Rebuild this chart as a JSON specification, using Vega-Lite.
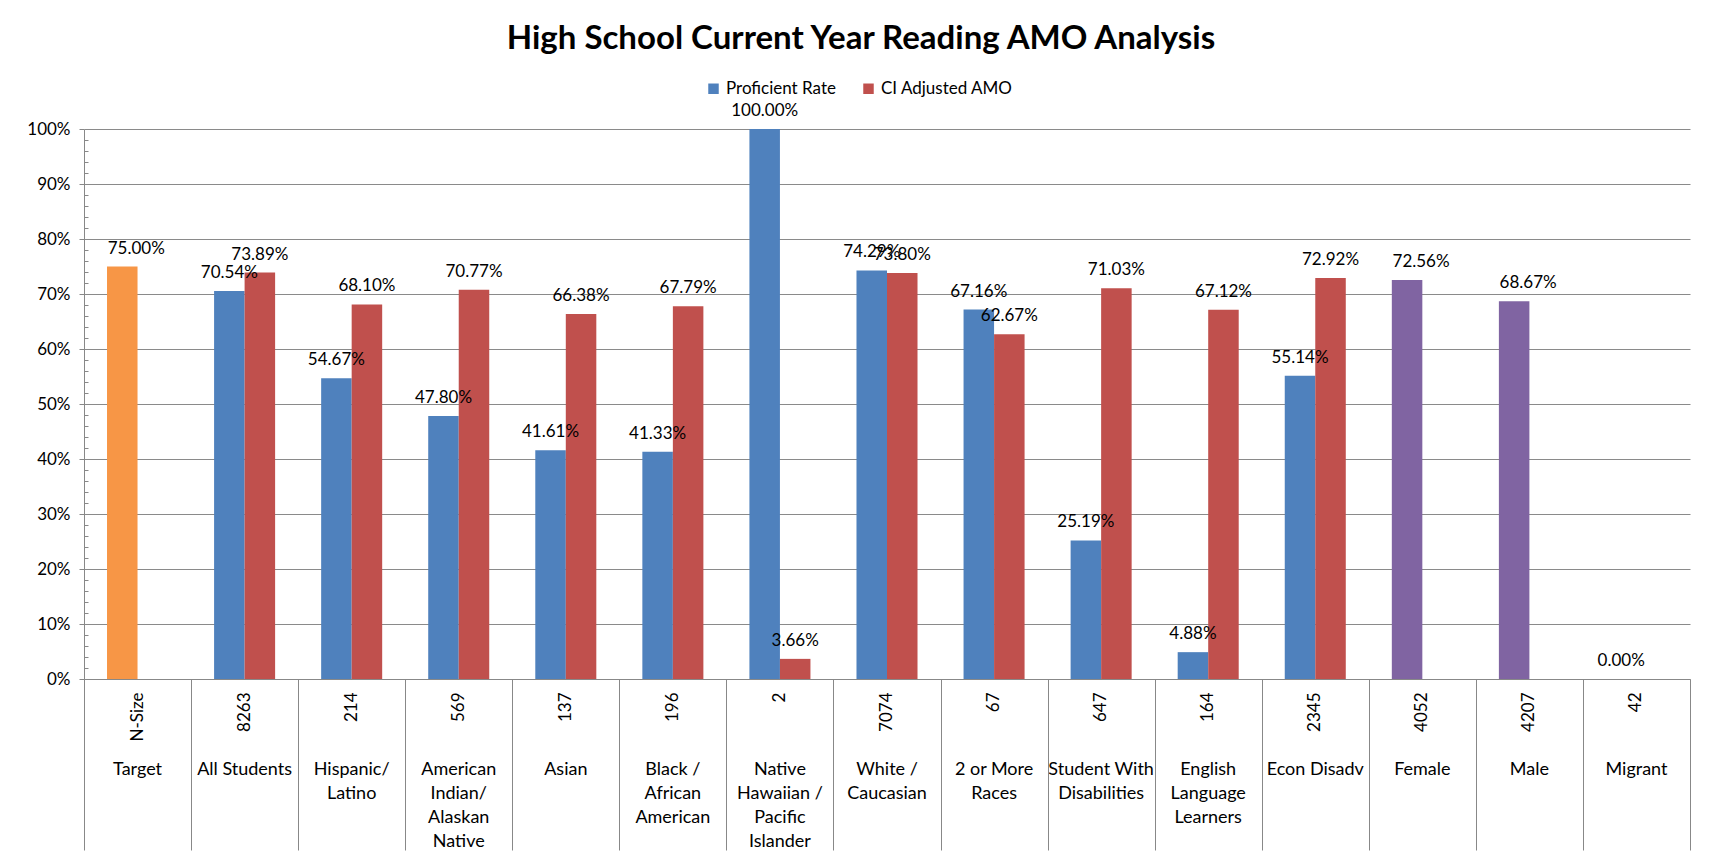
{
  "$schema": "https://vega.github.io/schema/vega-lite/v6.json",
  "width": 1606,
  "height": 550,
  "autosize": {"type": "none"},
  "padding": {"left": 84, "top": 129, "right": 19, "bottom": 181},
  "background": "white",
  "title": {
    "text": "High School Current Year Reading AMO Analysis",
    "font": "Lato",
    "fontSize": 33,
    "fontWeight": "bold",
    "color": "black",
    "anchor": "middle",
    "frame": "group",
    "dx": -26,
    "offset": 24
  },
  "data": {
    "values": [
      {"group": "Target", "nsize": "N-Size", "series": "Proficient Rate", "colorKey": "Target", "value": 0.75, "shift": "yes"},
      {"group": "All Students", "nsize": "8263", "series": "Proficient Rate", "colorKey": "Proficient Rate", "value": 0.7054, "shift": "no"},
      {"group": "All Students", "nsize": "8263", "series": "CI Adjusted AMO", "colorKey": "CI Adjusted AMO", "value": 0.7389, "shift": "no"},
      {"group": "Hispanic/|Latino", "nsize": "214", "series": "Proficient Rate", "colorKey": "Proficient Rate", "value": 0.5467, "shift": "no"},
      {"group": "Hispanic/|Latino", "nsize": "214", "series": "CI Adjusted AMO", "colorKey": "CI Adjusted AMO", "value": 0.681, "shift": "no"},
      {"group": "American|Indian/|Alaskan|Native", "nsize": "569", "series": "Proficient Rate", "colorKey": "Proficient Rate", "value": 0.478, "shift": "no"},
      {"group": "American|Indian/|Alaskan|Native", "nsize": "569", "series": "CI Adjusted AMO", "colorKey": "CI Adjusted AMO", "value": 0.7077, "shift": "no"},
      {"group": "Asian", "nsize": "137", "series": "Proficient Rate", "colorKey": "Proficient Rate", "value": 0.4161, "shift": "no"},
      {"group": "Asian", "nsize": "137", "series": "CI Adjusted AMO", "colorKey": "CI Adjusted AMO", "value": 0.6638, "shift": "no"},
      {"group": "Black /|African|American", "nsize": "196", "series": "Proficient Rate", "colorKey": "Proficient Rate", "value": 0.4133, "shift": "no"},
      {"group": "Black /|African|American", "nsize": "196", "series": "CI Adjusted AMO", "colorKey": "CI Adjusted AMO", "value": 0.6779, "shift": "no"},
      {"group": "Native|Hawaiian /|Pacific|Islander", "nsize": "2", "series": "Proficient Rate", "colorKey": "Proficient Rate", "value": 1.0, "shift": "no"},
      {"group": "Native|Hawaiian /|Pacific|Islander", "nsize": "2", "series": "CI Adjusted AMO", "colorKey": "CI Adjusted AMO", "value": 0.0366, "shift": "no"},
      {"group": "White /|Caucasian", "nsize": "7074", "series": "Proficient Rate", "colorKey": "Proficient Rate", "value": 0.7429, "shift": "no"},
      {"group": "White /|Caucasian", "nsize": "7074", "series": "CI Adjusted AMO", "colorKey": "CI Adjusted AMO", "value": 0.738, "shift": "no"},
      {"group": "2 or More|Races", "nsize": "67", "series": "Proficient Rate", "colorKey": "Proficient Rate", "value": 0.6716, "shift": "no"},
      {"group": "2 or More|Races", "nsize": "67", "series": "CI Adjusted AMO", "colorKey": "CI Adjusted AMO", "value": 0.6267, "shift": "no"},
      {"group": "Student With|Disabilities", "nsize": "647", "series": "Proficient Rate", "colorKey": "Proficient Rate", "value": 0.2519, "shift": "no"},
      {"group": "Student With|Disabilities", "nsize": "647", "series": "CI Adjusted AMO", "colorKey": "CI Adjusted AMO", "value": 0.7103, "shift": "no"},
      {"group": "English|Language|Learners", "nsize": "164", "series": "Proficient Rate", "colorKey": "Proficient Rate", "value": 0.0488, "shift": "no"},
      {"group": "English|Language|Learners", "nsize": "164", "series": "CI Adjusted AMO", "colorKey": "CI Adjusted AMO", "value": 0.6712, "shift": "no"},
      {"group": "Econ Disadv", "nsize": "2345", "series": "Proficient Rate", "colorKey": "Proficient Rate", "value": 0.5514, "shift": "no"},
      {"group": "Econ Disadv", "nsize": "2345", "series": "CI Adjusted AMO", "colorKey": "CI Adjusted AMO", "value": 0.7292, "shift": "no"},
      {"group": "Female", "nsize": "4052", "series": "Proficient Rate", "colorKey": "Gender", "value": 0.7256, "shift": "yes"},
      {"group": "Male", "nsize": "4207", "series": "Proficient Rate", "colorKey": "Gender", "value": 0.6867, "shift": "yes"},
      {"group": "Migrant", "nsize": "42", "series": "Proficient Rate", "colorKey": "Gender", "value": 0.0, "shift": "no"}
    ]
  },
  "resolve": {"scale": {"x": "independent", "xOffset": "independent"}, "axis": {"x": "independent", "y": "independent"}},
  "layer": [
    {
      "mark": {"type": "bar"},
      "encoding": {
        "x": {
          "field": "nsize", "type": "nominal", "sort": null,
          "scale": {"type": "band", "paddingInner": 0.43, "paddingOuter": 0.215},
          "axis": {
            "orient": "bottom", "title": null, "ticks": false, "domain": true,
            "domainColor": "#888888", "labelAngle": -90, "labelFont": "Lato",
            "labelFontSize": 17, "labelColor": "black", "labelPadding": 13,
            "labelOverlap": false, "labelBound": false
          }
        },
        "xOffset": {"field": "series", "type": "nominal", "scale": {"type": "band", "domain": ["Proficient Rate", "CI Adjusted AMO"], "paddingInner": 0, "paddingOuter": 0}},
        "y": {
          "field": "value", "type": "quantitative",
          "scale": {"domain": [0, 1], "nice": false},
          "axis": {
            "orient": "left", "title": null, "values": [0, 0.1, 0.2, 0.3, 0.4, 0.5, 0.6, 0.7, 0.8, 0.9, 1.0],
            "format": ".0%", "labelFont": "Lato", "labelFontSize": 17, "labelColor": "black",
            "labelPadding": 9, "tickSize": 5, "tickColor": "#888888", "domainColor": "#888888",
            "grid": true, "gridColor": "#8a8a8a", "gridWidth": 1
          }
        },
        "color": {
          "field": "colorKey", "type": "nominal",
          "scale": {"domain": ["Proficient Rate", "CI Adjusted AMO", "Target", "Gender"], "range": ["#4F81BD", "#C0504D", "#F79646", "#8064A2"]},
          "legend": {
            "values": ["Proficient Rate", "CI Adjusted AMO"], "title": null, "orient": "none",
            "direction": "horizontal", "legendX": 621, "legendY": -49, "symbolType": "square",
            "symbolSize": 110, "symbolStrokeWidth": 0, "labelFont": "Lato", "labelFontSize": 17,
            "labelColor": "black", "columnPadding": 24, "labelOffset": 4
          }
        }
      }
    },
    {
      "transform": [{"filter": "datum.shift === 'no'"}],
      "mark": {"type": "text", "baseline": "bottom", "dy": -9, "font": "Lato", "fontSize": 17, "color": "black"},
      "encoding": {
        "x": {
          "field": "group", "type": "nominal", "sort": null,
          "scale": {"type": "band", "paddingInner": 0.43, "paddingOuter": 0.215,
            "domain": ["Target", "All Students", "Hispanic/|Latino", "American|Indian/|Alaskan|Native", "Asian", "Black /|African|American", "Native|Hawaiian /|Pacific|Islander", "White /|Caucasian", "2 or More|Races", "Student With|Disabilities", "English|Language|Learners", "Econ Disadv", "Female", "Male", "Migrant"]},
          "axis": {
            "orient": "bottom", "title": null, "ticks": false, "domain": false,
            "labelExpr": "split(datum.value, '|')", "labelFont": "Lato", "labelFontSize": 18,
            "labelLineHeight": 24, "labelColor": "black", "labelPadding": 81, "labelBaseline": "top",
            "labelOverlap": false, "labelBound": false, "labelLimit": 300, "labelAngle": 0
          }
        },
        "xOffset": {"field": "series", "type": "nominal", "scale": {"type": "band", "domain": ["Proficient Rate", "CI Adjusted AMO"], "paddingInner": 0, "paddingOuter": 0}},
        "y": {"field": "value", "type": "quantitative", "axis": null},
        "text": {"field": "value", "type": "quantitative", "format": ".2%"}
      }
    },
    {
      "transform": [{"filter": "datum.shift === 'yes'"}],
      "mark": {"type": "text", "baseline": "bottom", "dy": -9, "dx": 14, "font": "Lato", "fontSize": 17, "color": "black"},
      "encoding": {
        "x": {
          "field": "group", "type": "nominal", "sort": null,
          "scale": {"type": "band", "paddingInner": 0, "paddingOuter": 0,
            "domain": ["Target", "All Students", "Hispanic/|Latino", "American|Indian/|Alaskan|Native", "Asian", "Black /|African|American", "Native|Hawaiian /|Pacific|Islander", "White /|Caucasian", "2 or More|Races", "Student With|Disabilities", "English|Language|Learners", "Econ Disadv", "Female", "Male", "Migrant"]},
          "axis": {
            "orient": "bottom", "title": null, "labels": false, "ticks": true, "tickBand": "extent",
            "tickSize": 171, "tickColor": "#888888", "domain": false, "grid": false
          }
        },
        "xOffset": {"field": "series", "type": "nominal", "scale": {"type": "band", "domain": ["Proficient Rate", "CI Adjusted AMO"], "paddingInner": 0, "paddingOuter": 0.7544}},
        "y": {
          "field": "value", "type": "quantitative",
          "axis": {
            "orient": "left", "title": null, "labels": false, "domain": false, "grid": false,
            "values": [0.02, 0.04, 0.06, 0.08, 0.12, 0.14, 0.16, 0.18, 0.22, 0.24, 0.26, 0.28, 0.32, 0.34, 0.36, 0.38, 0.42, 0.44, 0.46, 0.48, 0.52, 0.54, 0.56, 0.58, 0.62, 0.64, 0.66, 0.68, 0.72, 0.74, 0.76, 0.78, 0.82, 0.84, 0.86, 0.88, 0.92, 0.94, 0.96, 0.98],
            "tickSize": -4, "tickColor": "#888888"
          }
        },
        "text": {"field": "value", "type": "quantitative", "format": ".2%"}
      }
    }
  ],
  "config": {"view": {"stroke": null}}
}
